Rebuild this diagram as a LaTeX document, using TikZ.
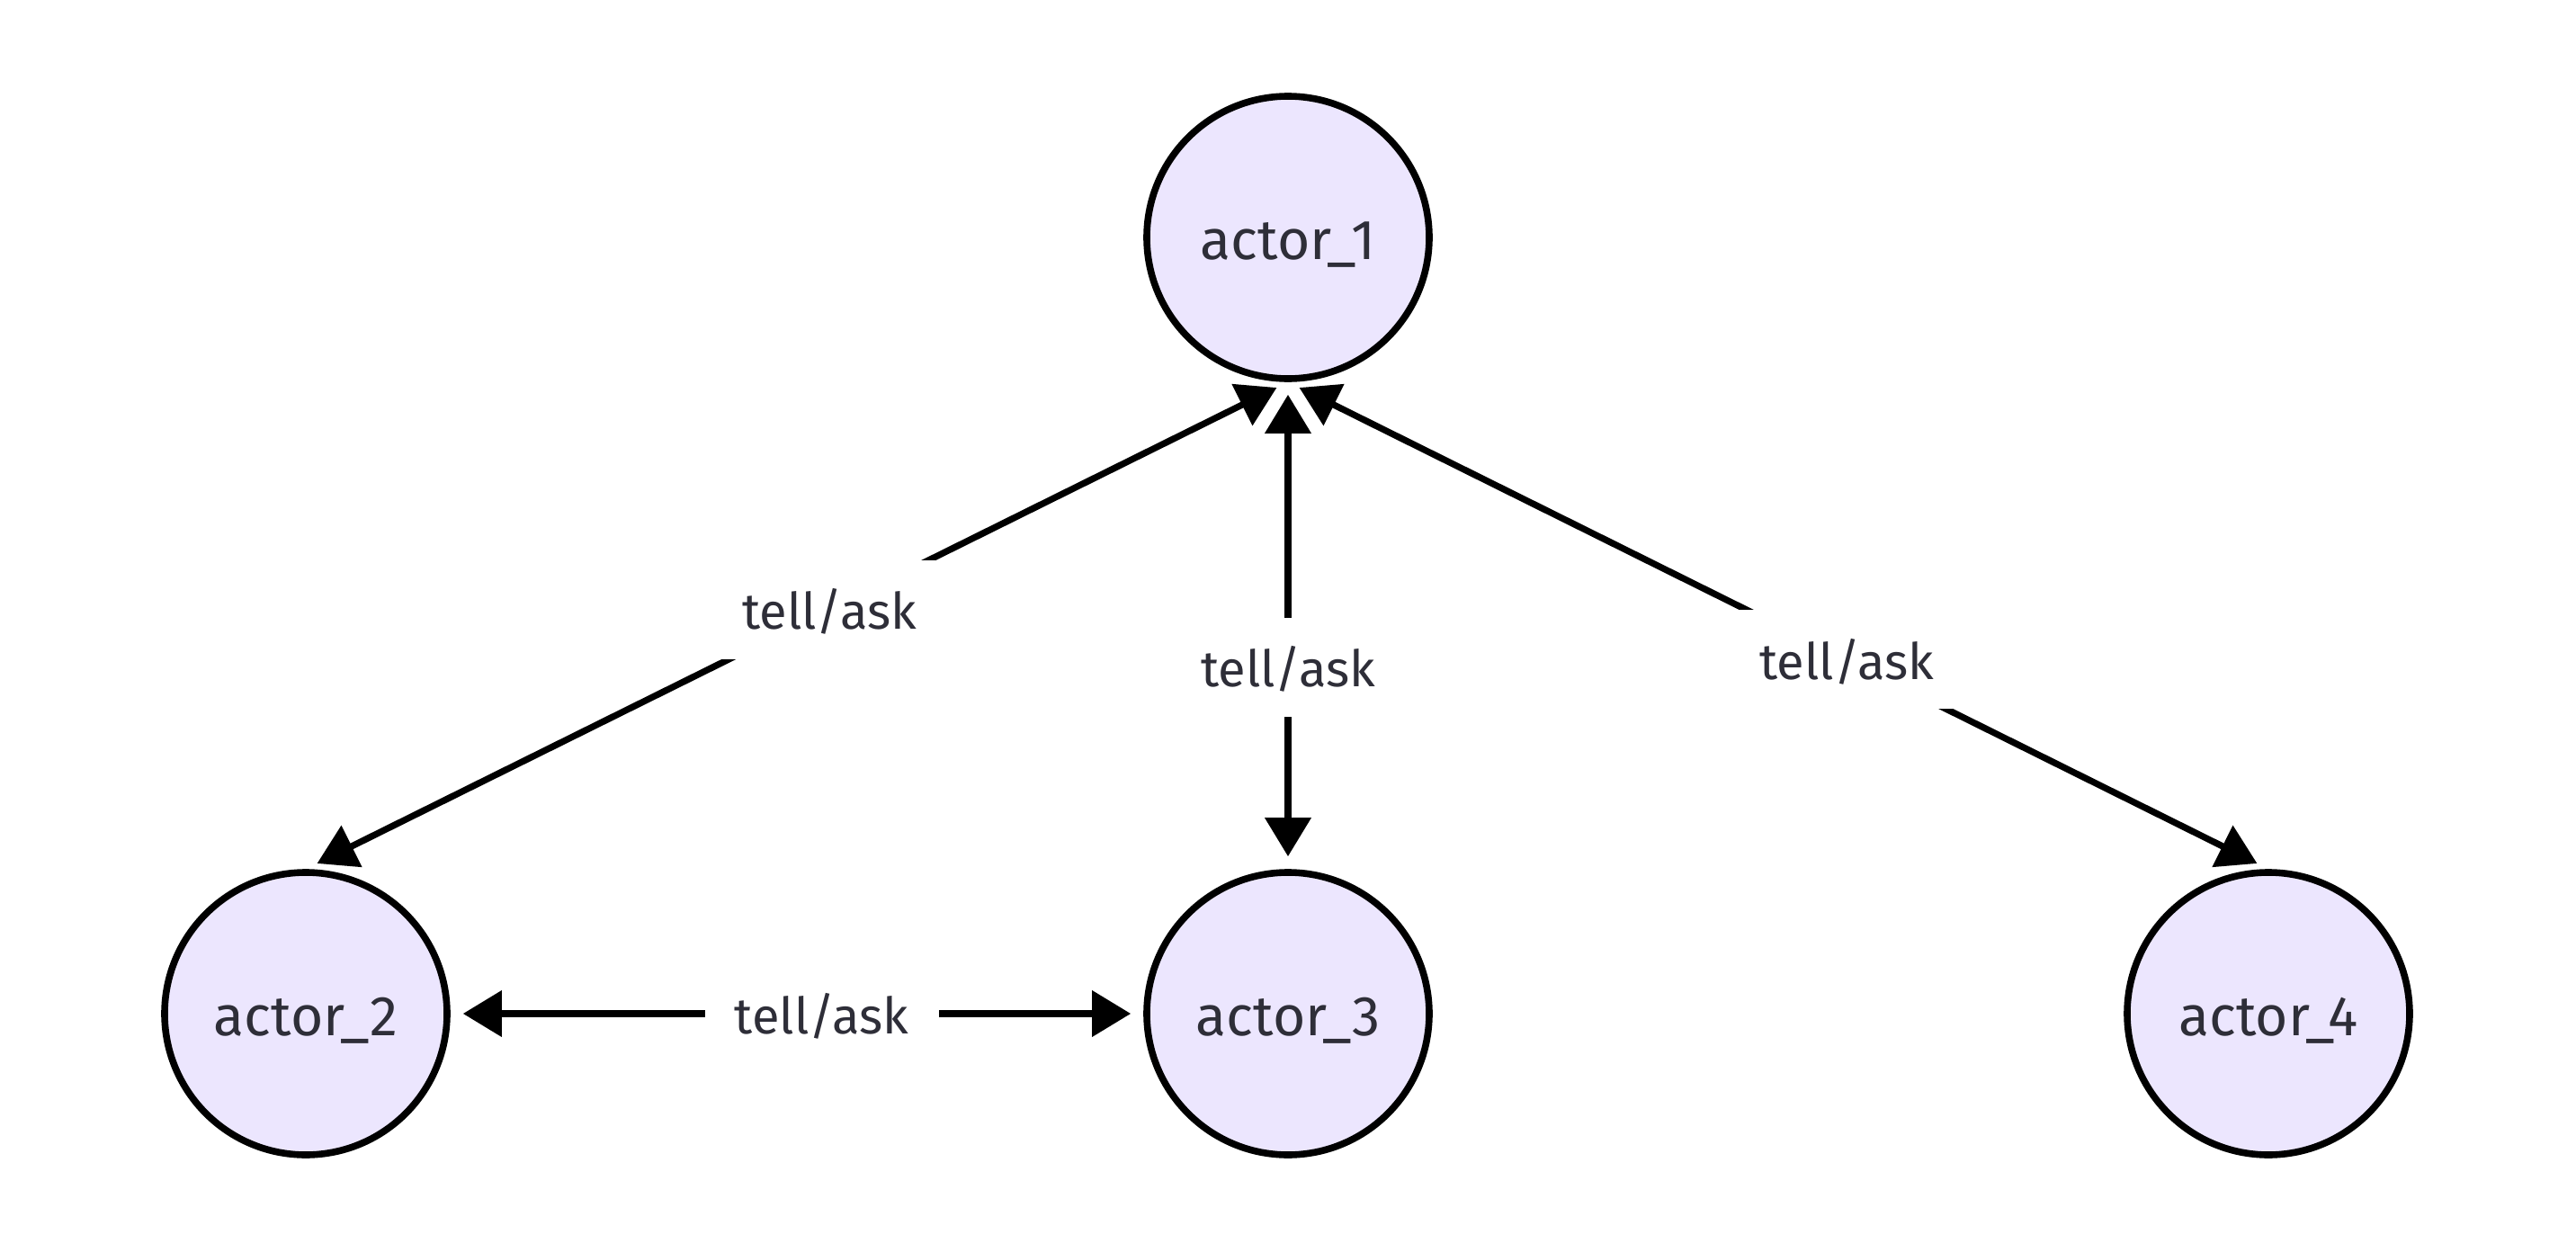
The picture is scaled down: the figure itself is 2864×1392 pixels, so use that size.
\documentclass[tikz,border=0pt]{standalone}
\usepackage{fontspec}
\setmainfont{Fira Sans}
\usetikzlibrary{arrows.meta}
\definecolor{actorfill}{HTML}{ECE6FE}
\definecolor{txt}{HTML}{2E2E38}
\newcommand{\lowerA}[1]{\raisebox{-6.2pt}[0pt][0pt]{#1}}
\newcommand{\lowerL}[1]{\raisebox{-5.5pt}[0pt][0pt]{#1}}
\begin{document}
\begin{tikzpicture}[x=0.25pt,y=-0.25pt,
  actor/.style={circle,draw=black,fill=actorfill,line width=1.9pt,minimum size=78.5pt,inner sep=0pt,text=txt,font=\fontsize{15.6}{18}\selectfont},
  link/.style={line width=1.8pt,{Triangle[length=10.75pt,width=12.5pt]}-{Triangle[length=10.75pt,width=12.5pt]},shorten <=3.5pt,shorten >=3.5pt},
  lbl/.style={fill=white,text=txt,minimum width=65pt,minimum height=27.5pt,inner sep=0pt,font=\fontsize{14}{17}\selectfont}]
\useasboundingbox (0,0) rectangle (2864,1392);
\node[actor] (a1) at (1432,264) {\lowerA{actor\_1}};
\node[actor] (a2) at (340,1127) {\lowerA{actor\_2}};
\node[actor] (a3) at (1432,1127) {\lowerA{actor\_3}};
\node[actor] (a4) at (2522,1127) {\lowerA{actor\_4}};
\draw[link] (a1.south) -- node[lbl,pos=0.467] {\lowerL{tell/ask}} (a2.north);
\draw[link] (a1.south) -- node[lbl,pos=0.585] {\lowerL{tell/ask}} (a3.north);
\draw[link] (a1.south) -- node[lbl,pos=0.57] {\lowerL{tell/ask}} (a4.north);
\draw[link] (a2.east) -- node[lbl,pos=0.536] {\lowerL{tell/ask}} (a3.west);
\end{tikzpicture}
\end{document}
